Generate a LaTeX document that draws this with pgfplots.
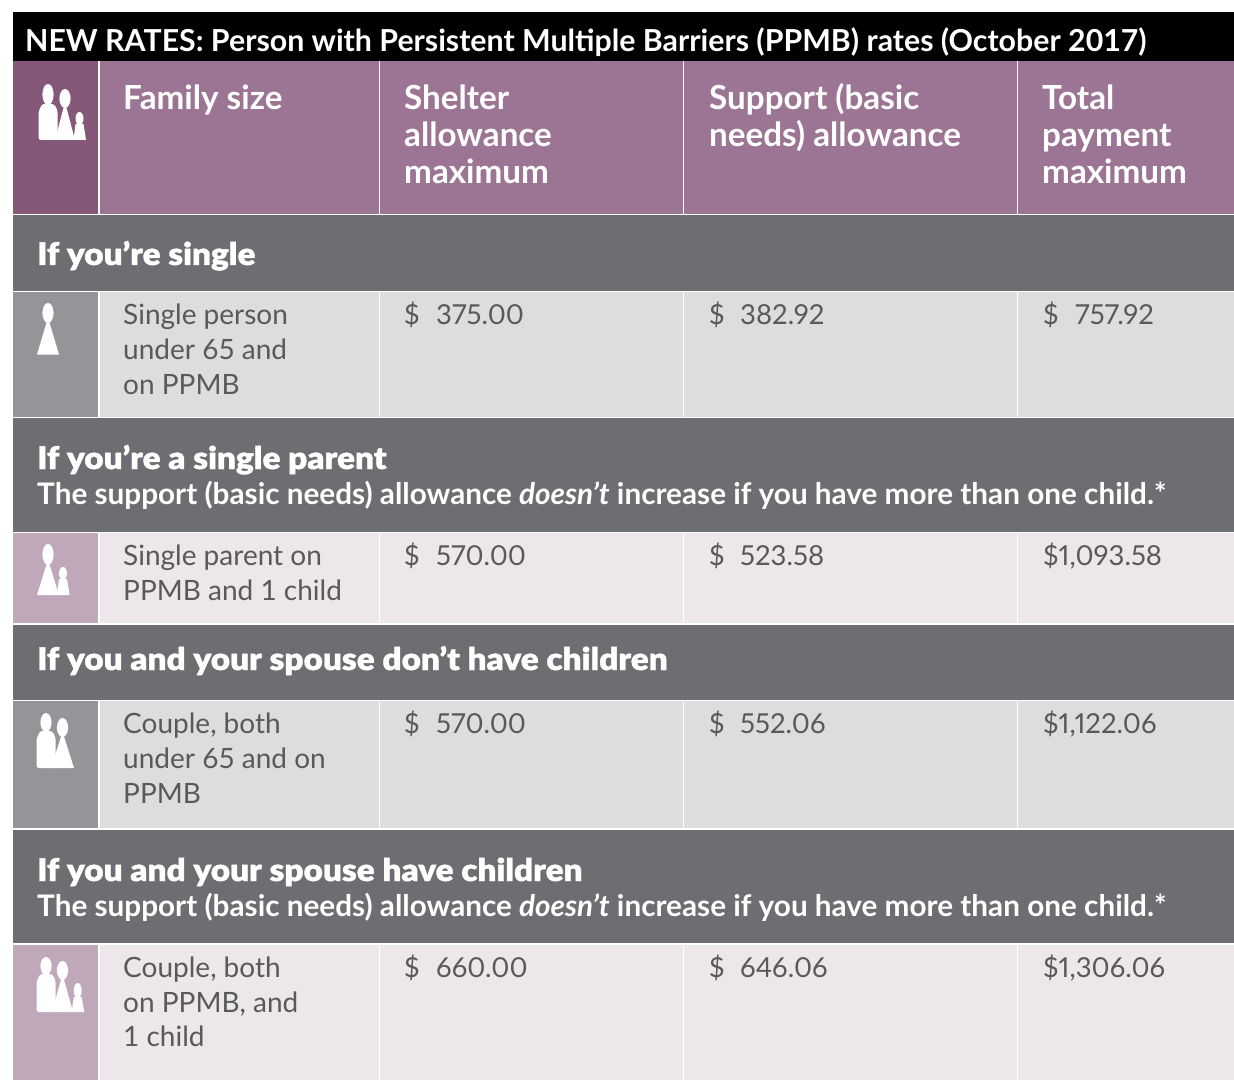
\documentclass[border=0pt]{standalone}
\usepackage{pgfplots}
\pgfplotsset{compat=1.18}
\usepackage{fontspec}
\setmainfont{Lato}
\newfontfamily\blk[FakeBold=1.2,FakeStretch=1.075]{Lato Black}
\newfontfamily\propnum[Numbers=Proportional]{Lato}
\definecolor{hd}{HTML}{9C7595}
\definecolor{hdi}{HTML}{85587A}
\definecolor{band}{HTML}{6D6E71}
\definecolor{gr}{HTML}{DCDDDF}
\definecolor{gri}{HTML}{939598}
\definecolor{pk}{HTML}{EDE6EB}
\definecolor{pki}{HTML}{C0A8BB}
\definecolor{tx}{HTML}{58595B}
\newcommand\R[5]{\fill[#5] (#1,#2) rectangle (#3,#4);}
\newcommand\T[4]{\node[anchor=base west,inner sep=0pt,text=#3] at (axis cs:#1,#2) {#4};}
\newcommand\body[3]{\T{#1}{#2-1}{tx}{\fontsize{28}{34}\selectfont #3}}
\newcommand\num[3]{\T{#1}{#2-1}{tx}{\fontsize{27.5}{34}\selectfont\propnum #3}}
\newcommand\hdr[3]{\T{#1}{#2+1}{white}{\fontsize{33.2}{37}\selectfont\bfseries #3}}
\newcommand\bandhead[2]{\T{37}{#1+1}{white}{\fontsize{31}{35}\selectfont\blk #2}}
\newcommand\bandsub[1]{\T{37}{#1+1}{white}{\fontsize{29.7}{33}\selectfont\bfseries The support (basic needs) allowance \textit{doesn’t} increase if you have more than one child.*}}
\newcommand\val[3]{\num{404}{#1}{\$}\num{436}{#1}{#2}\num{709}{#1}{\$}\num{740}{#1}{#3}}
% head: cx, top, bottom, rx
\newcommand\head[4]{\fill[white] ({#1},{(#2+#3)/2}) ellipse [x radius=#4pt,y radius={(#3-#2)/2*1pt}];}
\newcommand\woman[5]{\head{#1}{#2}{#3}{5.6}\fill[white] ({#1-1},{#3-2}) -- ({#1+1},{#3-2}) -- ({2*#1-#4},#5) -- ({#4},#5) -- cycle;}
\newcommand\man[5]{\head{#1}{#2}{#3}{5.6}\fill[white,rounded corners=2.5pt] ({#1-9.5},{#3+7}) -- ({#1-6},{#3-1}) -- ({#1+6},{#3-1}) -- ({#1+9.5},{#3+5}) -- ({#1+9.5},#5) -- ({#1-9.5},#5) -- cycle;}
\newcommand\child[4]{\head{#1}{#2}{#3}{4}\fill[white] ({#1-4},{#3-1}) -- ({#1+4},{#3-1}) -- ({#1+6.5},#4) -- ({#1-6},#4) -- cycle;}
\begin{document}
\begin{tikzpicture}
\begin{axis}[hide axis,scale only axis,width=1234pt,height=1080pt,
  xmin=0,xmax=1234,ymin=0,ymax=1080,y dir=reverse,clip=false]
\R{0}{0}{1234}{1080}{white}
% title
\R{13}{12}{1234}{61}{black}
\T{25}{52}{white}{\fontsize{30.3}{34}\selectfont\bfseries NEW RATES: Person with Persistent Multiple Barriers (PPMB) rates (October 2017)}
% header
\R{13}{61}{1234}{214}{hd}
\R{13}{61}{98.5}{214}{hdi}
% bands
\R{13}{215}{1234}{290.5}{band}
\R{13}{292}{1234}{416.5}{gr}
\R{13}{292}{98.5}{416.5}{gri}
\R{13}{418}{1234}{531.5}{band}
\R{13}{533}{1234}{623}{pk}
\R{13}{533}{98.5}{623}{pki}
\R{13}{624.5}{1234}{699.5}{band}
\R{13}{701}{1234}{828}{gr}
\R{13}{701}{98.5}{828}{gri}
\R{13}{830}{1234}{943}{band}
\R{13}{945}{1234}{1080}{pk}
\R{13}{945}{98.5}{1080}{pki}
% separators
\newcommand\V[2]{\draw[white,line width=1.2pt] (99,#1)--(99,#2) (379.5,#1)--(379.5,#2) (683.5,#1)--(683.5,#2) (1017.5,#1)--(1017.5,#2);}
\V{61}{214}\V{292}{416.5}\V{533}{623}\V{701}{828}\V{945}{1080}
% header text
\hdr{123}{109}{Family size}
\hdr{404}{109}{Shelter}\hdr{404}{146}{allowance}\hdr{404}{183}{maximum}
\hdr{709}{109}{Support (basic}\hdr{709}{146}{needs) allowance}
\hdr{1042}{109}{Total}\hdr{1042}{146}{payment}\hdr{1042}{183}{maximum}
% band text
\bandhead{264}{If you’re single}
\bandhead{468}{If you’re a single parent}\bandsub{503}
\bandhead{669}{If you and your spouse don’t have children}
\bandhead{880}{If you and your spouse have children}\bandsub{915}
% rows
\body{123}{325}{Single person}\body{123}{360}{under 65 and}\body{123}{395}{on PPMB}
\val{325}{375.00}{382.92}\num{1043}{325}{\$}\num{1075}{325}{757.92}
\body{123}{566}{Single parent on}\body{123}{601}{PPMB and 1 child}
\val{566}{570.00}{523.58}\num{1043}{566}{\$1,093.58}
\body{123}{734}{Couple, both}\body{123}{769}{under 65 and on}\body{123}{804}{PPMB}
\val{734}{570.00}{552.06}\num{1043}{734}{\$1,122.06}
\body{123}{978}{Couple, both}\body{123}{1013}{on PPMB, and}\body{123}{1047}{1 child}
\val{978}{660.00}{646.06}\num{1043}{978}{\$1,306.06}
% icons
\man{48}{84}{105}{}{140}\woman{65}{89}{108}{55}{140}\child{79.5}{112}{125}{140}
\woman{48}{303}{323}{37}{354.5}
\woman{48}{544}{565}{37}{595}\child{63}{567}{580}{595}
\man{46}{713}{732}{}{768}\woman{62.5}{718}{737}{51}{768}
\man{46}{957}{975}{}{1012}\woman{62.5}{961}{980}{52}{1012}\child{77.7}{983}{998}{1012}
\end{axis}
\end{tikzpicture}
\end{document}
